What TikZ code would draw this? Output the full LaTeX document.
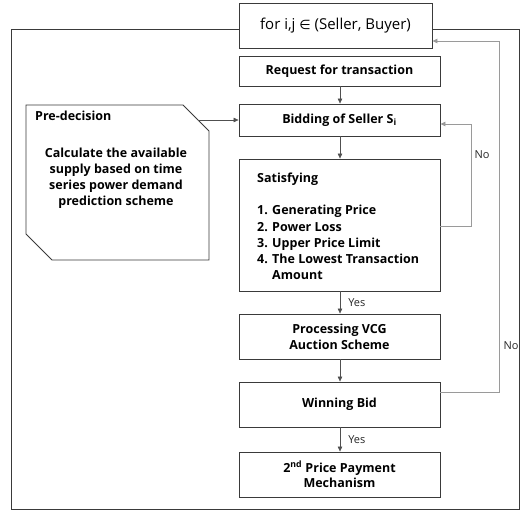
\documentclass[tikz,border=0pt]{standalone}
\usepackage{fontspec}
\setmainfont{Open Sans}[BoldFont={Open Sans Bold}]
\newfontfamily\symfont{DejaVu Sans}
\usetikzlibrary{arrows.meta}
\definecolor{boxline}{HTML}{3A3A3A}
\definecolor{flowline}{HTML}{505050}
\definecolor{loopline}{HTML}{9A9A9A}
\tikzset{
  box/.style={draw=boxline, line width=0.9pt, fill=white, inner sep=0pt,
    minimum width=201pt, align=center,
    font=\bfseries\fontsize{12.5}{15.8}\selectfont},
  flow/.style={draw=flowline, line width=0.6pt, -{Triangle[length=5pt,width=4.5pt]}},
  loopback/.style={draw=loopline, line width=0.8pt, -{Triangle[length=5pt,width=4.5pt]}, color=loopline},
  lbl/.style={inner sep=0pt, font=\fontsize{11}{13}\selectfont, text=black!85}
}
\begin{document}
\begin{tikzpicture}[x=1pt, y=-1pt]
\useasboundingbox (0,0) rectangle (524,512);

% outer frame of the loop
\draw[boxline, line width=0.9pt] (11,29) rectangle (519,509);

% loop header
\node[box, minimum width=193pt, minimum height=45pt,
      font=\fontsize{15}{18}\selectfont] (loop) at (335.5,25.5)
      {for i,j {\symfont\fontsize{13}{18}\selectfont ∈} (Seller, Buyer)};

% main flow
\node[box, minimum height=30pt] (req) at (339.5,71) {Request for transaction};
\node[box, minimum height=32pt] (bid) at (339.5,120) {Bidding of Seller S\textsubscript{i}};
\node[box, minimum height=132pt] (sat) at (339.5,225) {};
\node[inner sep=0pt, anchor=north west, align=left,
      font=\bfseries\fontsize{12.5}{16.1}\selectfont] (crit) at (257,173)
      {Satisfying\\[0pt]\mbox{}\\1. Generating Price\\2. Power Loss\\3. Upper Price Limit\\4. The Lowest Transaction\\\hspace{15pt}Amount};
\node[box, minimum height=45pt] (vcg) at (339.5,336.5) {Processing VCG\\Auction Scheme};
\node[box, minimum height=45pt] (win) at (339.5,404.5) {Winning Bid};
\node[box, minimum height=45pt] (pay) at (339.5,474.5) {2\textsuperscript{nd} Price Payment\\Mechanism};

% pre-decision block with cut corners
\draw[boxline, line width=0.9pt, fill=white]
  (26,105) -- (183,105) -- (209,131) -- (209,260) -- (52,260) -- (26,234) -- cycle;
\coordinate (pdout) at (198,120);
\node[inner sep=0pt, anchor=west, font=\bfseries\fontsize{12.5}{15}\selectfont] (pdtitle) at (35,116) {Pre-decision};
\node[inner sep=0pt, align=center, font=\bfseries\fontsize{12.5}{16}\selectfont] (pdtext) at (116,178)
  {Calculate the available\\supply based on time\\series power demand\\prediction scheme};

% connectors
\draw[flow] (req.south -| 340,0) -- (bid.north -| 340,0);
\draw[flow] (bid.south -| 340,0) -- (sat.north -| 340,0);
\draw[flow] (sat.south -| 340,0) -- node[lbl, anchor=west, xshift=8pt] (yes1) {Yes} (vcg.north -| 340,0);
\draw[flow] (vcg.south -| 340,0) -- (win.north -| 340,0);
\draw[flow] (win.south -| 340,0) -- node[lbl, anchor=west, xshift=8pt] (yes2) {Yes} (pay.north -| 340,0);
\draw[flow] (pdout) -- (bid.west |- pdout);

% feedback loops
\coordinate (noA) at (471,226);
\coordinate (noB) at (471,124);
\draw[loopback] (sat.east |- noA) -- (noA) -- (noB) -- (bid.east |- noB);
\coordinate (noC) at (499,392);
\coordinate (noD) at (499,41);
\draw[loopback] (win.east |- noC) -- (noC) -- (noD) -- (loop.east |- noD);
\node[lbl] (no1) at (482,155) {No};
\node[lbl] (no2) at (511,346) {No};
\end{tikzpicture}
\end{document}
